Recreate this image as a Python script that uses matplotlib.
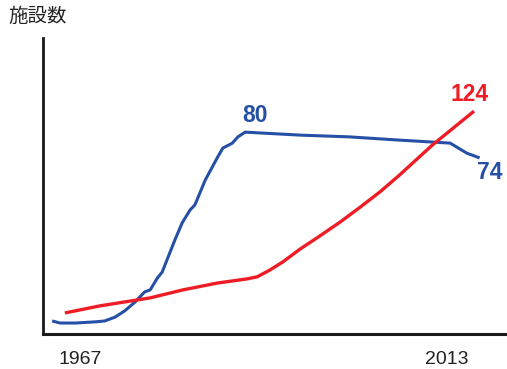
import matplotlib
matplotlib.use("Agg")
import matplotlib.pyplot as plt

# schematic chart: x in years, y in relative units
blue_years = [1963.5, 1964.5, 1966.4, 1968.9, 1970.1, 1971.4, 1972.6, 1973.9, 1975.1,
              1975.8, 1976.7, 1977.3, 1977.9, 1978.9, 1979.8, 1980.8, 1981.4, 1982.7,
              1984.2, 1984.9, 1986.1, 1986.8, 1987.7, 1994.6, 2000.8, 2007.1, 2013.4,
              2015.5, 2017.1]
blue_vals = [4.4, 3.7, 3.7, 4.1, 4.4, 5.7, 7.8, 10.8, 14.2,
             14.9, 18.9, 20.9, 25.0, 31.8, 37.5, 41.9, 43.6, 52.0,
             59.5, 62.8, 64.5, 66.6, 68.2, 67.2, 66.6, 65.5, 64.5,
             61.1, 59.5]

red_years = [1965.1, 1969.5, 1975.8, 1979.9, 1984.2, 1987.9, 1989.2, 1990.8, 1992.4,
             1994.6, 1997.0, 1999.6, 2002.0, 2004.6, 2007.1, 2009.0, 2011.2, 2013.8, 2016.4]
red_vals = [7.1, 9.5, 12.2, 14.9, 17.2, 18.6, 19.3, 21.6, 24.3,
            28.7, 33.0, 37.8, 42.6, 48.0, 53.8, 58.5, 63.9, 69.6, 75.3]

tick_years = [1967, 2013]
peak_label = "80"
blue_end_label = "74"
red_end_label = "124"

BLUE = "#2650a6"
RED = "#ee1c25"
num_font = ["Liberation Sans", "DejaVu Sans"]

fig = plt.figure(figsize=(5.07, 3.69), dpi=100)
ax = fig.add_axes([0.0848, 0.0949, 0.915, 0.802])

ax.plot(blue_years, blue_vals, color=BLUE, lw=2.2, solid_capstyle="butt")
ax.plot(red_years, red_vals, color=RED, lw=2.4, solid_capstyle="butt")

ax.set_xlim(1962.36, 2020.52)
ax.set_ylim(0, 100)

ax.spines["top"].set_visible(False)
ax.spines["right"].set_visible(False)
ax.spines["left"].set_linewidth(2)
ax.spines["bottom"].set_linewidth(2.2)
ax.spines["left"].set_color("#1a1a1a")
ax.spines["bottom"].set_color("#1a1a1a")

ax.set_yticks([])
ax.set_xticks(tick_years)
ax.set_xticklabels([str(y) for y in tick_years],
                   family=["Liberation Sans Narrow", "Liberation Sans", "DejaVu Sans"],
                   fontsize=14, color="#222222")
ax.tick_params(axis="x", length=0, pad=12)

# value labels
ipk = blue_vals.index(max(blue_vals))
ax.annotate(peak_label, (blue_years[ipk], blue_vals[ipk]), xytext=(7, 4),
            textcoords="offset points", ha="center", va="bottom",
            color=BLUE, fontsize=16.5, fontweight="bold", family=num_font)
ax.annotate(red_end_label, (red_years[-1], red_vals[-1]), xytext=(-3, 4),
            textcoords="offset points", ha="center", va="bottom",
            color=RED, fontsize=16.5, fontweight="bold", family=num_font)
ax.annotate(blue_end_label, (blue_years[-1], blue_vals[-1]), xytext=(7, -2),
            textcoords="offset points", ha="center", va="top",
            color=BLUE, fontsize=16.5, fontweight="bold", family=num_font)

fig.text(8 / 507, 1 - 6 / 369, "施設数", ha="left", va="top", fontsize=14,
         color="#222222", family=["Noto Sans CJK JP", "DejaVu Sans"])

fig.savefig("out.png", dpi=100)
